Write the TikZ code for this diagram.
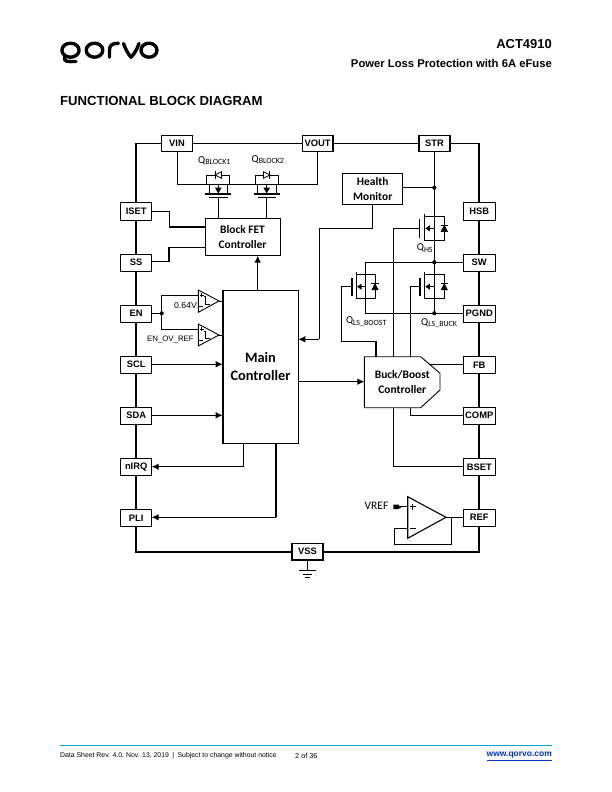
\documentclass[tikz,border=0pt]{standalone}
\usepackage{fontspec}
\setmainfont{Liberation Sans}
\newfontfamily\calfont{Carlito}
\usetikzlibrary{arrows.meta}
\definecolor{qblue}{HTML}{00A3E0}
\definecolor{lblue}{HTML}{0033CC}
\tikzset{
 pin/.style={draw,line width=.9pt,fill=white,inner sep=0pt,outer sep=0pt,font=\bfseries\fontsize{9.4}{10}\selectfont},
 pinb/.style={pin,line width=1.5pt},
 blk/.style={draw,line width=.9pt,fill=white,inner sep=0pt,outer sep=0pt,align=center,font=\calfont\bfseries\fontsize{11.5}{15}\selectfont},
 w/.style={line width=.9pt},
 tw/.style={line width=1.7pt},
 arr/.style={w,-{Latex[length=7pt,width=6.5pt]}},
 dot/.style={circle,fill=black,inner sep=0pt,minimum size=4.2pt},
 lab/.style={inner sep=0pt,font=\calfont\fontsize{10.6}{11}\selectfont},
 logo/.style={line width=3.4pt,line cap=round,line join=round},
 thickplate/.style={line width=1.6pt},
 diode/.style={fill=black,draw=black,line width=.5pt},
}
\newcommand{\subt}[1]{\textsubscript{\fontsize{8}{8}\selectfont #1}}
\newcommand{\pinbox}[7][pin]{\node[#1,minimum width=#5bp-#4bp,minimum height=#7bp-#6bp] (#2) at ({(#4+#5)/2},{(#6+#7)/2}) {#3};}
% vertical-gate MOSFET: gate plate, channel, main, diode x; top, mid, bottom y
\newcommand{\vfet}[7]{%
 \draw[thickplate] (#1,{#6-9.2}) -- (#1,{#6+9.2});
 \draw[line width=1pt] (#2,{#5-2.5}) -- (#2,{#7+.5});
 \draw[w] (#2,#5) -- (#3,#5) (#2,#7) -- (#3,#7);
 \draw[w] (#3,#6) -- ({#2+5},#6);
 \fill ({#2+1},#6) -- ({#2+5.5},{#6-3}) -- ({#2+5.5},{#6+3}) -- cycle;
 \draw[w] (#3,#5) -- (#4,#5) -- (#4,#7) -- (#3,#7);
 \fill[white] ({#4-3.5},{#6-3}) rectangle ({#4+3.5},{#6+4});
 \draw[diode] (#4,{#6-3}) -- ({#4+3.2},{#6+3.2}) -- ({#4-3.2},{#6+3.2}) -- cycle;
 \draw[w] ({#4-3.8},{#6-3}) -- ({#4+3.8},{#6-3});
 \draw[w] (#4,#5) -- (#4,{#6-3}) (#4,{#6+3.2}) -- (#4,#7);
}
% horizontal-gate MOSFET: gate x; diode direction -1 left, 1 right
\newcommand{\hfet}[2]{%
 \draw[thickplate] ({#1-13},194) -- ({#1+13},194);
 \draw[w] ({#1-9},197.7) -- ({#1+9.5},197.7);
 \draw[w] ({#1-9},184.3) -- ({#1-9},194) ({#1+9.5},184.3) -- ({#1+9.5},194);
 \draw[w] (#1,184.3) -- (#1,189);
 \fill (#1,193.5) -- ({#1-3.4},187.5) -- ({#1+3.4},187.5) -- cycle;
 \draw[w] ({#1-11.5},184.3) -- ({#1-11.5},175) -- ({#1+11.5},175) -- ({#1+11.5},184.3);
 \fill[white] ({#1-3.5},171) rectangle ({#1+3.5},179);
 \draw[line width=.8pt,fill=white] ({#1+(#2)*3.2},175) -- ({#1-(#2)*3.2},171.8) -- ({#1-(#2)*3.2},178.2) -- cycle;
 \draw[line width=1pt] ({#1+(#2)*3.2},171.4) -- ({#1+(#2)*3.2},178.6);
}
\begin{document}
\begin{tikzpicture}[x=1bp,y=-1bp]
\useasboundingbox (0,0) rectangle (612,792);
\fill[white] (0,0) rectangle (612,792);
% logo
\begin{scope}[logo]
\draw (70.5,50.2) circle[x radius=8.6,y radius=7];
\draw (65,56.5) .. controls (63,62.5) and (68,61.5) .. (76,61.5);
\draw (94.5,50.2) circle[x radius=8.3,y radius=7];
\draw (109.5,57.2) -- (109.5,50) .. controls (109.5,45) and (112.5,43.3) .. (118.5,43.3);
\draw (123.5,43.5) .. controls (125.5,49) and (128,54) .. (131,57.2) .. controls (134.5,54) and (137,49) .. (139,43.5);
\draw (149,50.2) circle[x radius=8,y radius=7];
\end{scope}
\fill[gray] (159.5,60) circle[radius=.5];
% header
\node[anchor=east,inner sep=0pt,font=\bfseries\fontsize{13}{15}\selectfont] (hdra) at (552,44.5) {ACT4910};
\node[anchor=east,inner sep=0pt,font=\bfseries\fontsize{11.3}{13}\selectfont] (hdrb) at (552,63) {Power Loss Protection with 6A eFuse};
\node[anchor=west,inner sep=0pt,font=\bfseries\fontsize{13.2}{15}\selectfont] (title) at (60,101) {FUNCTIONAL BLOCK DIAGRAM};
% footer
\coordinate (fl) at (60,745); \coordinate (fr) at (552,745);
\draw[qblue,line width=.6pt] (fl) -- (fr);
\node[anchor=west,inner sep=0pt,font=\fontsize{6.9}{8}\selectfont] (fa) at (60,756) {Data Sheet Rev. 4.0, Nov. 13, 2019\enspace|\enspace Subject to change without notice};
\node[anchor=west,inner sep=0pt,font=\fontsize{7.3}{8}\selectfont] (fb) at (295,755.5) {2 of 36};
\node[anchor=east,inner sep=0pt,text=lblue,font=\bfseries\fontsize{8.5}{9}\selectfont] (fc) at (552,755.5) {www.qorvo.com};
\draw[lblue,line width=.6pt] (fc.west |- 0,760.5) -- (fc.east |- 0,760.5);
% frame
\draw[line width=1.8pt] (136,143) -- (136,551.7) -- (479,551.7) -- (479,143);
\draw[line width=.9pt] (135.1,143) -- (479.9,143);
% supply
\draw[w] (177.3,151) -- (177.3,184.3) -- (317.3,184.3) -- (317.3,151);
\hfet{218.3}{-1}
\hfet{266.7}{1}
% pins
\pinbox[pinb]{VIN}{VIN}{161.7}{192.3}{135.5}{151.7}
\pinbox[pinb]{VOUT}{VOUT}{302.3}{333}{135.5}{151.7}
\pinbox[pinb]{STR}{STR}{419}{450}{135.5}{151.7}
\pinbox[pinb]{VSS}{VSS}{292}{323}{543.5}{560}
\pinbox{ISET}{ISET}{120.7}{151.7}{202.7}{220}
\pinbox{SS}{SS}{120.7}{151.7}{254.3}{271}
\pinbox{EN}{EN}{120.7}{151.7}{305}{322}
\pinbox{SCL}{SCL}{120.7}{151.7}{356}{373}
\pinbox{SDA}{SDA}{120.7}{151.7}{407.3}{424}
\pinbox{nIRQ}{nIRQ}{120.7}{151.7}{458.3}{475.3}
\pinbox{PLI}{PLI}{120.7}{151.7}{509.3}{526.3}
\pinbox{HSB}{HSB}{463.5}{495}{202.7}{220}
\pinbox{SW}{SW}{463.5}{495}{254}{271}
\pinbox{PGND}{PGND}{463.5}{495}{305}{322}
\pinbox{FB}{FB}{463.5}{495}{356.7}{373}
\pinbox{COMP}{COMP}{463.5}{495}{407}{424.5}
\pinbox{BSET}{BSET}{463.5}{495}{458.3}{475.5}
\pinbox{REF}{REF}{463.5}{495}{509}{526}
% blocks
\node[blk,minimum width=75bp,minimum height=37.4bp] (bfc) at (242.5,237) {Block FET\\Controller};
\node[blk,minimum width=60bp,minimum height=31bp] (hm) at (372.7,188.8) {Health\\Monitor};
\node[draw,line width=.9pt,fill=white,inner sep=0pt,outer sep=0pt,minimum width=75.6bp,minimum height=153bp,align=center,font=\calfont\bfseries\fontsize{14.4}{17.7}\selectfont] (mc) at (260.5,366.8) {Main\\Controller};
\draw[line width=.9pt,fill=white] (364.3,356.7) -- (420.7,356.7) -- (440,373.3) -- (440,390) -- (420.7,407.7) -- (364.3,407.7) -- cycle;
\draw[line width=1.1pt] (364.3,356.7) -- (364.3,407.7);
\draw[line width=1.6pt] (222.7,290.3) -- (222.7,443.3);
\node[inner sep=0pt,align=center,font=\calfont\bfseries\fontsize{11.5}{15}\selectfont] (bb) at (402.3,382) {Buck/Boost\\Controller};
\coordinate (bbw) at (364.3,381.7);
% block FET connections
\draw[w] (218.3,197.7) -- (218.3,218.3) (266.7,197.7) -- (266.7,218.3);
\draw[w] (ISET.east |- 0,211.3) -- (169.3,211.3) -- (169.3,226.7);
\draw[tw] (169.3,226.7) -- (205,226.7);
\draw[w] (SS.east |- 0,261.5) -- (169.3,261.5);
\draw[tw] (169.3,262.3) -- (169.3,247.3);
\draw[w] (169.3,247.3) -- (205,247.3);
\draw[arr] (257.7,290.3) -- (257.7,255.7);
% QBLOCK labels
\node[anchor=west,lab] (qb1) at (198,160.5) {Q\subt{BLOCK1}};
\node[anchor=west,lab] (qb2) at (251.5,159.5) {Q\subt{BLOCK2}};
% health monitor
\draw[w] (hm.east |- 0,187.7) -- (434.3,187.7);
\draw[w] (372.3,204.3) -- (372.3,228.3) -- (319.3,228.3) -- (319.3,339.3);
\draw[arr] (319.3,339.3) -- (298.3,339.3);
% HS FET and drain
\draw[w] (434.3,151.7) -- (434.3,262.3);
\vfet{419.3}{424.3}{434.3}{444.3}{216.7}{228.3}{240}
\draw[w] (419.3,228.3) -- (393.3,228.3) -- (393.3,356.7);
\node[dot] (d1) at (434.3,187.7) {};
% SW line
\draw[w] (SW.west |- 0,262.3) -- (365.7,262.3) -- (365.7,313.3) -- (PGND.west |- 0,313.3);
\draw[w] (434.3,262.3) -- (434.3,313.3);
\node[dot] (d2) at (434.3,262.3) {};
\node[dot] (d3) at (434.3,313.3) {};
\vfet{351.7}{356}{365.7}{375}{274.3}{286.7}{298.3}
\vfet{420}{424.3}{434.3}{444.3}{274.3}{286.7}{298.3}
\draw[w] (351.7,286.7) -- (341.7,286.7) -- (341.7,341) -- (376,341);
\draw[line width=1.2pt] (376,341) -- (376,356.7);
\draw[w] (420,286.7) -- (410.3,286.7) -- (410.3,356.7);
\node[anchor=west,lab] (qhs) at (416.7,248) {Q\subt{HS}};
\node[anchor=west,lab] (qlb) at (345.8,321.5) {Q\subt{LS\_BOOST}};
\node[anchor=west,lab] (qlk) at (421,323) {Q\subt{LS\_BUCK}};
% buck pins
\draw[w] (FB.west |- 0,364) -- (429,364);
\draw[w] (410.7,407.7) -- (410.7,415.7) -- (COMP.west |- 0,415.7);
\draw[w] (393.3,407.7) -- (393.3,466.3) -- (BSET.west |- 0,466.3);
\draw[arr] (mc.east |- 0,381.7) -- (bbw);
% EN and comparators
\draw[w] (EN.east |- 0,313.3) -- (161.7,313.3);
\draw[w] (198.3,295) -- (161.7,295) -- (161.7,329.3) -- (198.3,329.3);
\node[dot] (d4) at (161.7,313.3) {};
\draw[line width=.9pt] (198.3,290) -- (219,301) -- (198.3,312.3) -- cycle;
\draw[line width=.9pt] (198.3,324) -- (219,335) -- (198.3,346) -- cycle;
\draw[w] (219,301) -- (222.7,301) (219,335) -- (222.7,335);
\draw[line width=.6pt] (200,295) -- (204,295) (201.5,293) -- (201.5,297) (198.3,306.7) -- (203,306.7);
\draw[line width=.6pt] (200,329.3) -- (204,329.3) (201.5,327.3) -- (201.5,331.3) (198.3,340) -- (203,340);
\draw[line width=.8pt] (204,296.5) -- (205.5,296.5) -- (205.5,304.5) -- (210,304.5);
\draw[line width=.8pt] (204,331) -- (205.5,331) -- (205.5,338.5) -- (210,338.5);
\node[anchor=east,inner sep=0pt,font=\fontsize{8.7}{9}\selectfont] (l64) at (197,306) {0.64V};
\node[anchor=east,inner sep=0pt,font=\fontsize{7.9}{9}\selectfont] (lov) at (194,340) {EN\_OV\_REF};
\draw[arr] (SCL.east |- 0,364.3) -- (mc.west |- 0,364.3);
\draw[arr] (SDA.east |- 0,415.3) -- (mc.west |- 0,415.3);
\draw[w] (243.7,443.3) -- (243.7,466.7);
\draw[arr,line width=1.1pt] (243.7,466.7) -- (nIRQ.east |- 0,466.7);
\draw[tw] (276,443.3) -- (276,517.3);
\draw[arr] (276,517.3) -- (PLI.east |- 0,517.3);
% ground
\draw[w] (VSS.south) -- (307.5,570.7);
\draw[line width=1.5pt] (299,570.7) -- (316,570.7);
\draw[line width=.8pt] (303.3,574.3) -- (312.3,574.3) (305.3,577.7) -- (310,577.7);
% opamp
\draw[line width=1.1pt] (407.7,496.7) -- (407.7,538.3) -- (446,517.3) -- cycle;
\draw[w] (446,517.3) -- (REF.west |- 0,517.3);
\draw[line width=1.2pt] (451.7,517.3) -- (451.7,544.3) -- (394.3,544.3) -- (394.3,528.3);
\draw[w] (394.3,528.3) -- (407.7,528.3);
\fill (393.3,504.5) rectangle (399,509) (399,506) -- (401,506) -- (401,507.5) -- (399,508.5) -- cycle;
\draw[w] (400,506.7) -- (407.7,506.7);
\draw[line width=.8pt] (409.5,506.7) -- (415.5,506.7) (412.5,503.7) -- (412.5,509.7) (410,528.3) -- (416,528.3);
\node[anchor=east,lab,font=\calfont\fontsize{11.5}{12}\selectfont] (vref) at (388.5,506) {VREF};
\end{tikzpicture}
\end{document}
